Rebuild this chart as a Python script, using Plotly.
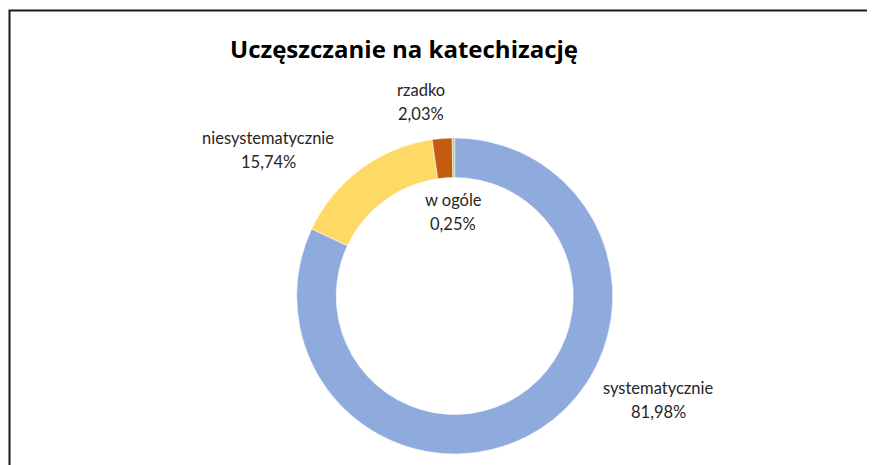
import plotly.graph_objects as go

labels = ["systematycznie", "niesystematycznie", "rzadko", "w ogóle"]
values = [81.98, 15.74, 2.03, 0.25]
colors = ["#8FAADC", "#FFD966", "#C55A11", "#A9D18E"]
title = "Uczęszczanie na katechizację"

W, H = 875, 465
OFF = 8  # page body margin
# label centre positions (pixels from top-left of window): first line y
label_pos = [(658, 388), (268, 138), (421, 90), (453, 200)]
LINE_GAP = 24

def fmt(v):
    return f"{v:.2f}".replace(".", ",") + "%"

def px(x):
    return (x - OFF) / W

def py(y):
    return 1 - (y - OFF) / H

fig = go.Figure()
fig.add_trace(go.Pie(
    labels=labels, values=values, sort=False, direction="clockwise", rotation=0,
    hole=0.75, marker=dict(colors=colors, line=dict(color="white", width=0.5)),
    textinfo="none", hoverinfo="label+percent", showlegend=False,
    domain=dict(x=[px(296.7), px(612.7)], y=[py(454), py(138)]),
))

for lab, v, (x, y) in zip(labels, values, label_pos):
    for i, t in enumerate([lab, fmt(v)]):
        fig.add_annotation(
            x=px(x), y=py(y + i * LINE_GAP), xref="paper", yref="paper",
            text=t, showarrow=False, align="center",
            font=dict(family="Lato", size=16.5, color="#262626"),
            xanchor="center", yanchor="middle",
        )

fig.add_shape(type="rect", xref="paper", yref="paper",
              x0=px(9.5), y0=-0.2, x1=1.2, y1=py(10.5),
              line=dict(color="#1a1a1a", width=2))

fig.update_layout(
    width=W, height=H,
    margin=dict(l=0, r=0, t=0, b=0),
    paper_bgcolor="white", plot_bgcolor="white",
    title=dict(text=f"<b>{title}</b>", x=px(404), xanchor="center",
               y=py(50), yanchor="middle",
               font=dict(family="Open Sans", size=24, color="#000000")),
)

fig.write_html("out.html")
